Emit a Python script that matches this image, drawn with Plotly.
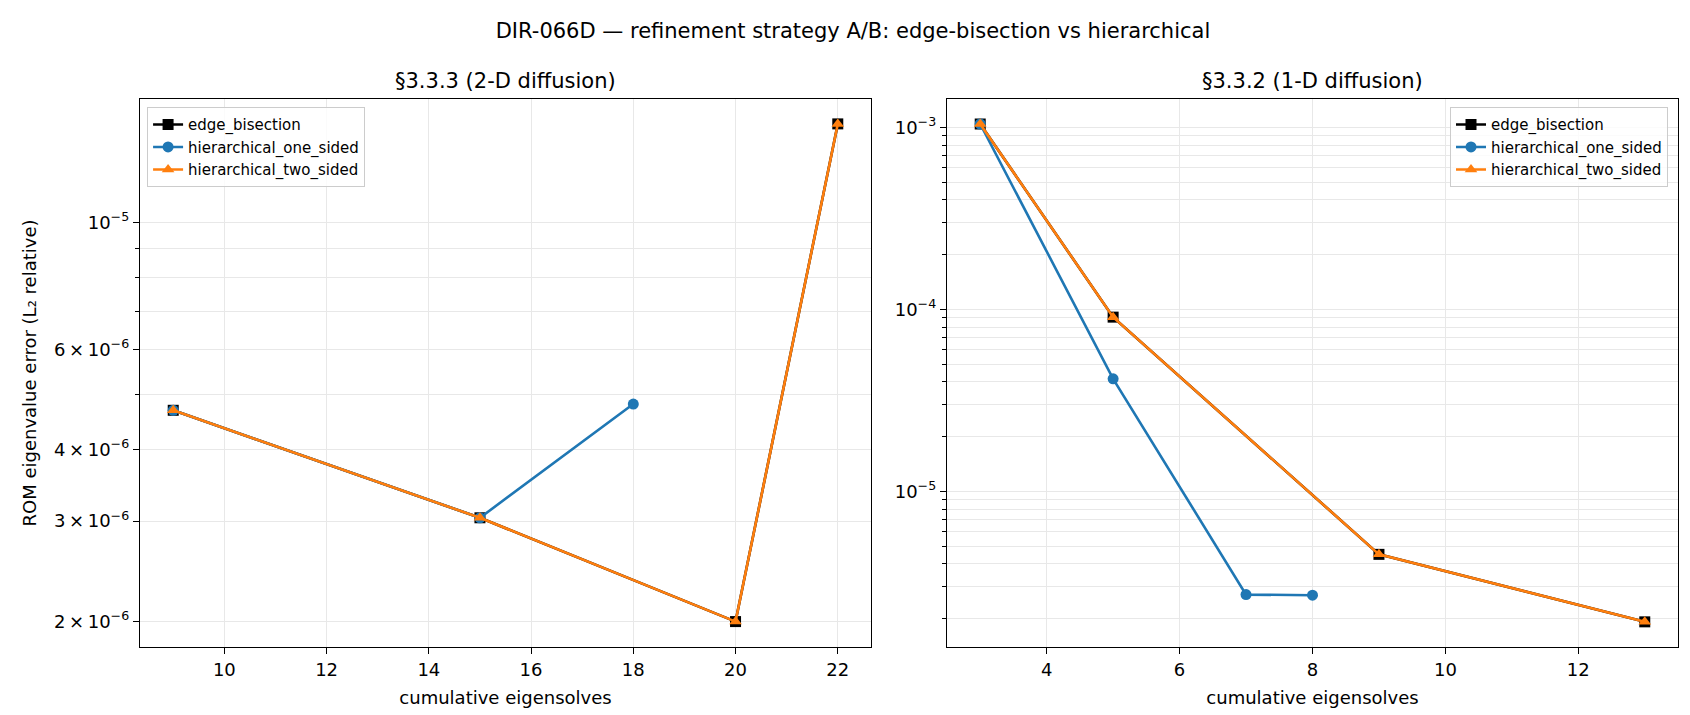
import plotly.graph_objects as go

# --- data ---
# §3.3.3 (2-D diffusion)
x2d_edge = [9, 15, 20, 22]
y2d_edge = [4.69e-6, 3.04e-6, 2.0e-6, 1.489e-5]
x2d_one = [9, 15, 18]
y2d_one = [4.69e-6, 3.04e-6, 4.81e-6]
x2d_two = [9, 15, 20, 22]
y2d_two = [4.69e-6, 3.04e-6, 2.0e-6, 1.489e-5]

# §3.3.2 (1-D diffusion)
x1d_edge = [3, 5, 9, 13]
y1d_edge = [1.046e-3, 9.08e-5, 4.51e-6, 1.92e-6]
x1d_one = [3, 5, 7, 8]
y1d_one = [1.046e-3, 4.16e-5, 2.71e-6, 2.69e-6]
x1d_two = [3, 5, 9, 13]
y1d_two = [1.046e-3, 9.08e-5, 4.51e-6, 1.92e-6]

series_names = ["edge_bisection", "hierarchical_one_sided", "hierarchical_two_sided"]
subplot_titles = ["§3.3.3 (2-D diffusion)", "§3.3.2 (1-D diffusion)"]

# tick labels
left_ytick_vals = [2e-6, 3e-6, 4e-6, 6e-6, 1e-5]
left_ytick_text = ["2\u2009×\u200910<sup>−6</sup>", "3\u2009×\u200910<sup>−6</sup>",
                   "4\u2009×\u200910<sup>−6</sup>", "6\u2009×\u200910<sup>−6</sup>",
                   "10<sup>−5</sup>"]
left_yminor_vals = [5e-6, 7e-6, 8e-6, 9e-6]
right_ytick_vals = [1e-5, 1e-4, 1e-3]
right_ytick_text = ["10<sup>−5</sup>", "10<sup>−4</sup>", "10<sup>−3</sup>"]
right_yminor_vals = [m * d for d in (1e-6, 1e-5, 1e-4) for m in range(2, 10)]

FONT = "DejaVu Sans"
colors = ["#000000", "#1f77b4", "#ff7f0e"]
symbols = ["square", "circle", "triangle-up"]
GRID = "#e8e8e8"

fig = go.Figure()

left = [(x2d_edge, y2d_edge), (x2d_one, y2d_one), (x2d_two, y2d_two)]
right = [(x1d_edge, y1d_edge), (x1d_one, y1d_one), (x1d_two, y1d_two)]

for i, (xs, ys) in enumerate(left):
    fig.add_trace(go.Scatter(x=xs, y=ys, mode="lines+markers", name=series_names[i],
                             line=dict(color=colors[i], width=2.6),
                             marker=dict(symbol=symbols[i], size=11, color=colors[i]),
                             xaxis="x", yaxis="y", legend="legend"))
for i, (xs, ys) in enumerate(right):
    fig.add_trace(go.Scatter(x=xs, y=ys, mode="lines+markers", name=series_names[i],
                             line=dict(color=colors[i], width=2.6),
                             marker=dict(symbol=symbols[i], size=11, color=colors[i]),
                             xaxis="x2", yaxis="y2", legend="legend2"))

axis_common = dict(showline=True, mirror=True, linecolor="black", linewidth=1.4,
                   ticks="outside", ticklen=6, tickwidth=1.4, tickcolor="black",
                   showgrid=True, gridcolor=GRID, gridwidth=1, zeroline=False,
                   tickfont=dict(family=FONT, size=18, color="black"), automargin=False)

legend_common = dict(bgcolor="rgba(255,255,255,0.8)", bordercolor="#cccccc", borderwidth=1,
                     font=dict(family=FONT, size=15, color="black"),
                     tracegroupgap=0, itemwidth=30)

fig.update_layout(
    width=1690, height=715,
    paper_bgcolor="white", plot_bgcolor="white",
    margin=dict(l=132, r=20, t=91, b=76),
    font=dict(family=FONT, color="black"),
    title=dict(text="DIR-066D — refinement strategy A/B: edge-bisection vs hierarchical",
               x=0.5, xref="container", xanchor="center",
               y=1 - 22.7 / 715, yref="container", yanchor="middle",
               font=dict(family=FONT, size=21, color="black")),
    xaxis=dict(domain=[0, 0.4753], range=[8.35, 22.65], tickvals=[10, 12, 14, 16, 18, 20, 22],
               title=dict(text="cumulative eigensolves", standoff=12,
                          font=dict(family=FONT, size=18)),
               **axis_common),
    yaxis=dict(type="log", range=[-5.7435, -4.7835],
               tickvals=left_ytick_vals, ticktext=left_ytick_text,
               minor=dict(tickvals=left_yminor_vals, ticks="outside", ticklen=3.5,
                          tickwidth=1.2, tickcolor="black", showgrid=True,
                          gridcolor=GRID, gridwidth=1),
               title=dict(text="ROM eigenvalue error (L₂ relative)", standoff=12,
                          font=dict(family=FONT, size=18)),
               **axis_common),
    xaxis2=dict(domain=[0.5247, 1], range=[2.5, 13.5], tickvals=[4, 6, 8, 10, 12],
                anchor="y2",
                title=dict(text="cumulative eigensolves", standoff=12,
                           font=dict(family=FONT, size=18)),
                **axis_common),
    yaxis2=dict(type="log", range=[-5.855, -2.843], anchor="x2",
                tickvals=right_ytick_vals, ticktext=right_ytick_text,
                minor=dict(tickvals=right_yminor_vals, ticks="outside", ticklen=3.5,
                           tickwidth=1.2, tickcolor="black", showgrid=True,
                           gridcolor=GRID, gridwidth=1),
                **axis_common),
    legend=dict(x=0.0046, y=0.985, xanchor="left", yanchor="top", **legend_common),
    legend2=dict(x=0.9935, y=0.985, xanchor="right", yanchor="top", **legend_common),
    annotations=[
        dict(text=subplot_titles[0], x=0.4753 / 2, xref="paper", y=1, yref="paper",
             xanchor="center", yanchor="middle", yshift=18, showarrow=False,
             font=dict(family=FONT, size=21, color="black")),
        dict(text=subplot_titles[1], x=(0.5247 + 1) / 2, xref="paper", y=1, yref="paper",
             xanchor="center", yanchor="middle", yshift=18, showarrow=False,
             font=dict(family=FONT, size=21, color="black")),
    ],
)

fig.write_html("out.html")
